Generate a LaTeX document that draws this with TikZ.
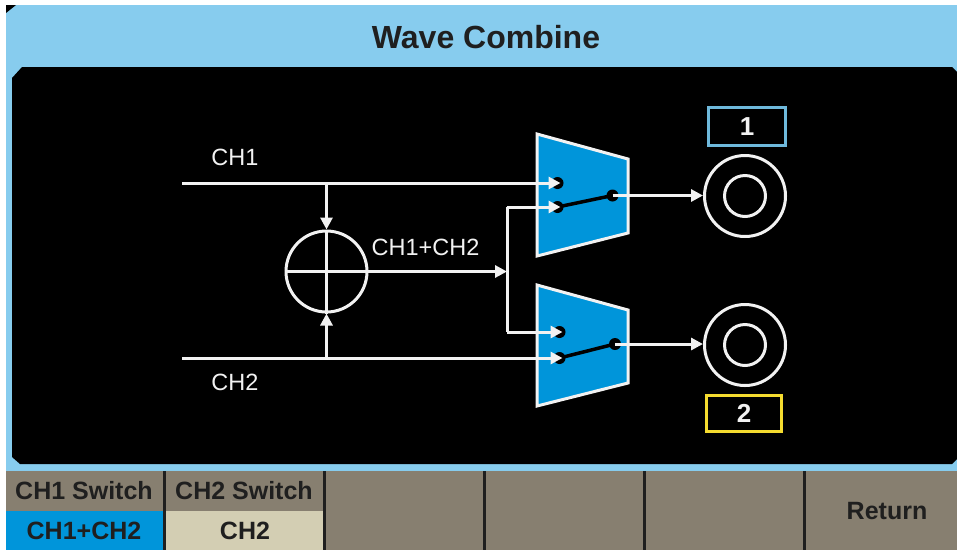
\documentclass[tikz,border=0pt]{standalone}
\usepackage{fontspec}
\setmainfont{Liberation Sans}
\usetikzlibrary{arrows.meta}
\definecolor{band}{HTML}{87CCEE}
\definecolor{softgray}{HTML}{877F70}
\definecolor{swblue}{HTML}{0095DA}
\definecolor{sand}{HTML}{D3CEB3}
\definecolor{wht}{HTML}{F2F2F2}
\definecolor{boxblue}{HTML}{6FB9DC}
\definecolor{boxyellow}{HTML}{F5DC2F}
\tikzset{
 wire/.style={draw=wht,line width=3pt},
 arrowed/.style={wire,-{Triangle[length=12pt,width=12pt,fill=wht]}},
 ring/.style={circle,draw=wht,line width=3pt,inner sep=0pt},
 mux/.style={draw=wht,line width=3pt,fill=swblue,line join=miter},
 lbl/.style={text=wht,font=\fontsize{23.5}{26}\selectfont,inner sep=0pt},
 softlbl/.style={text=black!88,font=\bfseries\fontsize{25}{28}\selectfont,inner sep=0pt},
 divider/.style={draw=black!88,line width=3pt},
 contact/.style={circle,fill=black,inner sep=0pt,minimum size=12pt},
 lever/.style={draw=black,line width=3.5pt},
 numbox/.style={line width=3pt,text=wht,font=\bfseries\fontsize{26}{28}\selectfont,inner sep=0pt},
}
\begin{document}
\begin{tikzpicture}[x=1pt,y=-1pt]
\useasboundingbox (0,0) rectangle (957,550);
\fill[white] (0,0) rectangle (957,550);
% frame
\fill[band] (6,5) -- (957,5) -- (957,476) -- (6,476) -- cycle;
\fill[black] (6,5) -- (16,5) -- (6,13) -- cycle;
\fill[black] (22,67) -- (952,67) -- (957,72) -- (957,459) -- (952,464) -- (20,464) -- (12,457) -- (12,78) -- cycle;
\node[text=black!88,font=\bfseries\fontsize{32}{35}\selectfont,inner sep=0pt] (title) at (486,37) {Wave Combine};
% softkeys
\fill[softgray] (6,471) rectangle (957,550);
\fill[swblue] (6,511) rectangle (163,550);
\fill[sand] (166,511) rectangle (323,550);
\foreach \x in {164.5,324.5,484.5,644.5,804.5} \draw[divider] (\x,471) -- (\x,550);
\node[softlbl] (k1) at (84,491) {CH1 Switch};
\node[softlbl] (k2) at (244,491) {CH2 Switch};
\node[softlbl] (k3) at (84,531) {CH1+CH2};
\node[softlbl] (k4) at (245,531) {CH2};
\node[softlbl] (k5) at (887,511) {Return};
% muxes
\draw[mux] (537,134) -- (628,159) -- (628,233) -- (537,256) -- cycle;
\draw[mux] (537,285) -- (628,310) -- (628,383) -- (537,406) -- cycle;
\node[contact] (c1a) at (557.5,183) {};
\node[contact] (c1b) at (557.5,207) {};
\node[contact] (c1o) at (612.5,195.5) {};
\node[contact] (c2a) at (559.5,332) {};
\node[contact] (c2b) at (559.5,358) {};
\node[contact] (c2o) at (615,344) {};
\draw[lever] (c1b.center) -- (c1o.center);
\draw[lever] (c2b.center) -- (c2o.center);
% sum and connectors
\node[ring,minimum size=81pt] (sum) at (326.5,271.5) {};
\coordinate (ch1s) at (182,183);
\coordinate (ch2s) at (182,358);
\coordinate (t1) at (326.5,183);
\coordinate (t2) at (326.5,358);
\coordinate (j) at (507,271.5);
\coordinate (jt) at (507,207);
\coordinate (jb) at (507,332);
\draw[arrowed] (ch1s) -- ([xshift=3pt]c1a.center);
\draw[arrowed] (ch2s) -- ([xshift=3pt]c2b.center);
\draw[arrowed] (t1) -- (sum.north);
\draw[arrowed] (t2) -- (sum.south);
\draw[wire] (sum.north) -- (sum.south);
\draw[wire] (sum.west) -- (sum.east);
\draw[arrowed] (sum.east) -- (j);
\draw[wire,line join=miter] (j) -- (jt);
\draw[wire,line join=miter] (j) -- (jb);
\draw[arrowed] (jt) -- ([xshift=3pt]c1b.center);
\draw[arrowed] (jb) -- ([xshift=3pt]c2a.center);
% outputs
\node[ring,minimum size=81pt] (o1) at (745,196) {};
\node[ring,minimum size=41pt] (i1) at (745,196) {};
\node[ring,minimum size=81pt] (o2) at (745,345) {};
\node[ring,minimum size=41pt] (i2) at (745,345) {};
\draw[arrowed] (c1o.center) -- (o1.west |- c1o.center);
\draw[arrowed] (c2o.center) -- (o2.west |- c2o.center);
% labels
\node[lbl] (l1) at (235,157) {CH1};
\node[lbl] (l2) at (235,382) {CH2};
\node[lbl] (l3) at (425.5,247) {CH1+CH2};
\node[numbox,draw=boxblue,minimum width=77pt,minimum height=38pt] (b1) at (747,126.5) {1};
\node[numbox,draw=boxyellow,minimum width=75pt,minimum height=36pt] (b2) at (744,413) {2};
\end{tikzpicture}
\end{document}
